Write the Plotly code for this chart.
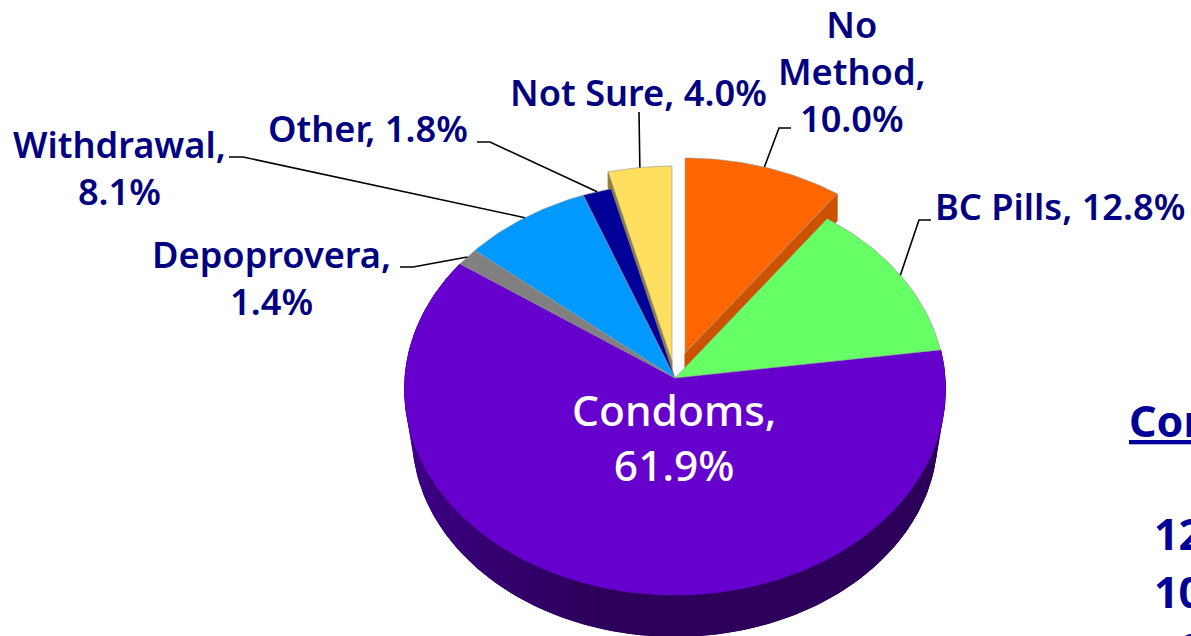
import numpy as np
import plotly.graph_objects as go

# ---- data, clockwise from 12 o'clock ----
categories = ["No Method", "BC Pills", "Condoms", "Depoprovera", "Withdrawal", "Other", "Not Sure"]
values = [10.0, 12.8, 61.9, 1.4, 8.1, 1.8, 4.0]
label_texts = ["No<br>Method,<br>10.0%", "BC Pills, 12.8%", "Condoms,<br>61.9%", "Depoprovera,<br>1.4%",
               "Withdrawal,<br>8.1%", "Other, 1.8%", "Not Sure, 4.0%"]
colors = ["#FF6600", "#66FF66", "#6600CC", "#808080", "#0099FF", "#000099", "#FFDF5F"]
side_colors = {"No Method": "#CC5200", "Not Sure": "#8F7B33"}
cut_off_texts = ["<u>Condoms</u>", "12", "10", "9"]

# ---- layout ----
W, H = 1191, 636
CX, CY = 675, 378
RX, RY, K = 270, 205.4, 0.0534
RING_SCALE, RING_DROP = 0.97, 48
explode = {"No Method": (10, -25), "Not Sure": (-3, -17)}
explode_depth = {"No Method": 27, "Not Sure": 15}
label_pos = {"No Method": (852, 71), "BC Pills": (1060, 206), "Condoms": (674, 437), "Depoprovera": (271, 277),
             "Withdrawal": (119, 167), "Other": (368, 128), "Not Sure": (638, 92)}
leader_elbows = {"No Method": [(791, 128), (779, 128)], "BC Pills": [(931, 220), (919, 220)],
                 "Depoprovera": [(400, 267), (413, 267)], "Withdrawal": [(229, 157), (243, 157)],
                 "Other": [(477, 142), (490, 142)], "Not Sure": [(639, 112)]}
TEXT = "#000080"
FONT = "Noto Sans"


def project(theta, dx=0.0, dy=0.0, scale=1.0):
    s, c = np.sin(theta), np.cos(theta)
    d = 1 + K * c
    return CX + dx + scale * RX * s / d, CY + dy - scale * RY * c / d


def poly(xs, ys, color, line=None, width=1.0):
    return go.Scatter(x=list(xs), y=list(ys), mode="lines", fill="toself", fillcolor=color,
                      line=dict(color=line or color, width=width), hoverinfo="skip", showlegend=False)


edges = np.cumsum([0] + values) / sum(values) * 2 * np.pi
spans = {n: (edges[i], edges[i + 1]) for i, n in enumerate(categories)}
fig = go.Figure()

# outer wall of the largest slice: a solid base, then shaded strips
a0, a1 = spans["Condoms"]
ang = np.linspace(a0, a1, 200)
xf, yf = project(ang)
xr, yr = project(ang, 0, RING_DROP, RING_SCALE)
fig.add_trace(poly(np.r_[xf, xr[::-1]], np.r_[yf, yr[::-1]], "#2E0062"))
steps = np.arange(a0, a1, np.radians(3))
for a, b in zip(steps, np.append(steps[1:], a1)):
    t = (a - a0) / (a1 - a0)
    v = np.clip((t - 0.50) / 0.42, 0, 1)
    r, bl = 44 + 30 * v, 90 + 75 * v
    col = f"rgb({r:.0f},0,{bl:.0f})"
    seg = np.linspace(a, b, 4)
    xf, yf = project(seg)
    xr, yr = project(seg, 0, RING_DROP, RING_SCALE)
    fig.add_trace(poly(np.r_[xf, xr[::-1]], np.r_[yf, yr[::-1]], col, width=0.6))

# cut faces of the pulled-out slices
for n, edge_index in (("No Method", 1), ("Not Sure", 0)):
    dx, dy = explode[n]
    a = spans[n][edge_index]
    x0, y0 = project(a, dx, dy)
    ax, ay = CX + dx, CY + dy
    dep = explode_depth[n]
    fig.add_trace(poly([x0, x0, ax, ax], [y0, y0 + dep, ay + dep, ay], side_colors[n]))

# top faces
edge_line = "rgba(150,150,150,0.75)"
order = ["No Method", "Not Sure", "Condoms", "BC Pills", "Depoprovera", "Withdrawal", "Other"]
for n in order:
    i = categories.index(n)
    a, b = spans[n]
    dx, dy = explode.get(n, (0, 0))
    ang = np.linspace(a, b, max(int(np.degrees(b - a)), 6))
    x, y = project(ang, dx, dy)
    xs = np.r_[CX + dx, x, CX + dx]
    ys = np.r_[CY + dy, y, CY + dy]
    fig.add_trace(poly(xs, ys, colors[i], line=edge_line if n != "Condoms" else colors[i], width=0.8))

# leader lines and labels
for n, elbow in leader_elbows.items():
    a, b = spans[n]
    dx, dy = explode.get(n, (0, 0))
    ex, ey = project((a + b) / 2, dx, dy)
    xs = [p[0] for p in elbow] + [float(ex)]
    ys = [p[1] for p in elbow] + [float(ey)]
    fig.add_trace(go.Scatter(x=xs, y=ys, mode="lines", line=dict(color="#000000", width=1.6),
                             hoverinfo="skip", showlegend=False))

for n, txt in zip(categories, label_texts):
    lx, ly = label_pos[n]
    white = n == "Condoms"
    fig.add_annotation(x=lx, y=ly, text=txt, showarrow=False, xanchor="center", yanchor="middle",
                       align="center",
                       font=dict(family=FONT, size=42.5 if white else 36.2, color="#FFFFFF" if white else TEXT,
                                 weight=500 if white else 600))

cut_font = dict(family=FONT, size=43, color="#000099", weight=700)
fig.add_annotation(x=1127, y=420, text=cut_off_texts[0], showarrow=False, xanchor="left", yanchor="middle",
                   font=cut_font)
for txt, px, py in zip(cut_off_texts[1:], (1152, 1152), (533, 591)):
    fig.add_annotation(x=px, y=py, text=txt, showarrow=False, xanchor="left", yanchor="middle", font=cut_font)
fig.add_annotation(x=1178, y=617, text=cut_off_texts[3], showarrow=False, xanchor="left", yanchor="top",
                   font=cut_font)

fig.update_layout(
    width=W, height=H, margin=dict(l=0, r=0, t=0, b=0),
    paper_bgcolor="#FFFFFF", plot_bgcolor="#FFFFFF", showlegend=False,
    xaxis=dict(range=[0, W], visible=False, fixedrange=True),
    yaxis=dict(range=[H, 0], visible=False, fixedrange=True),
)
fig.write_html("out.html", post_script="document.body.style.margin='0';document.body.style.overflow='hidden';",
               config={"displayModeBar": False})
